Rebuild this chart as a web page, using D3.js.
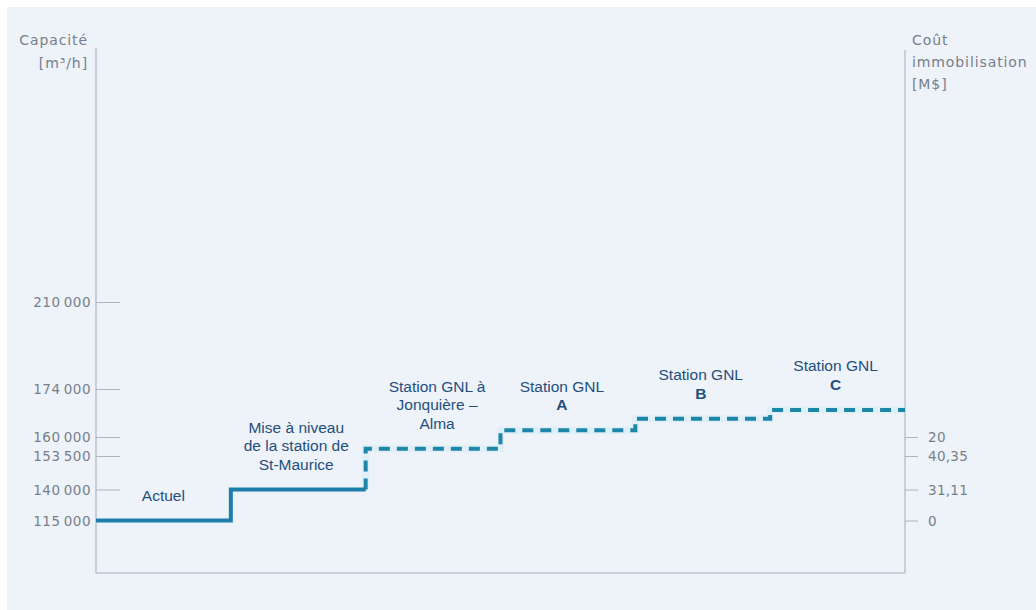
<!DOCTYPE html>
<html><head><meta charset="utf-8">
<script src="https://cdn.jsdelivr.net/npm/d3@7"></script>
<style>
html,body{margin:0;padding:0;background:#fff;}
svg{display:block;}
</style></head>
<body>
<svg id="c" width="1036" height="610"></svg>
<script>
// ---- data ----
const categories = ["Actuel", "Mise à niveau", "Jonquière – Alma", "Station GNL A", "Station GNL B", "Station GNL C"];
const capacity = [115000, 140000, 156000, 162000, 165300, 167900];
const stepLabels = [
  [["Actuel"]],
  [["Mise à niveau"], ["de la station de"], ["St-Maurice"]],
  [["Station GNL à"], ["Jonquière –"], ["Alma"]],
  [["Station GNL"], ["A", true]],
  [["Station GNL"], ["B", true]],
  [["Station GNL"], ["C", true]]
];
const leftTickValues = [115000, 140000, 153500, 160000, 174000, 210000];
const leftTickLabels = ["115\u2009000", "140\u2009000", "153\u2009500", "160\u2009000", "174\u2009000", "210\u2009000"];
const rightTickValues = [160000, 153500, 140000, 115000];
const rightTickLabels = ["20", "40,35", "31,11", "0"];

// ---- layout ----
const svg = d3.select("#c");
svg.append("rect").attr("x", 7).attr("y", 7).attr("width", 1029).attr("height", 603).attr("fill", "#eef2f9");

const x0 = 96, x1 = 905, yBottom = 573, yTop = 48;
const x = d3.scaleBand().domain(categories).range([x0, x1]).padding(0);
// the original axis is schematic (non-uniform spacing): piecewise-linear scale
const y = d3.scaleLinear().domain(leftTickValues).range([520.5, 489.5, 456, 437, 389, 302]);

const axisColor = "#a3abb4";
const tickColor = "#adb4bc";
const tickFont = "'DejaVu Sans', sans-serif";
const textGray = "#76808b";

// axes lines
svg.append("line").attr("x1", x0).attr("x2", x0).attr("y1", yTop).attr("y2", yBottom).attr("stroke", axisColor).attr("stroke-width", 1);
svg.append("line").attr("x1", x1).attr("x2", x1).attr("y1", 50).attr("y2", yBottom).attr("stroke", axisColor).attr("stroke-width", 1);
svg.append("line").attr("x1", x0).attr("x2", x1).attr("y1", yBottom).attr("y2", yBottom).attr("stroke", axisColor).attr("stroke-width", 1);

// left axis (ticks inward)
const leftAxis = d3.axisRight(y).tickValues(leftTickValues).tickSize(24)
  .tickFormat((d, i) => leftTickLabels[i]);
const gl = svg.append("g").attr("transform", `translate(${x0},0)`).call(leftAxis);
gl.select(".domain").remove();
gl.selectAll(".tick line").attr("stroke", tickColor);
gl.selectAll(".tick text").attr("x", -5).attr("text-anchor", "end")
  .attr("fill", textGray).style("font-family", tickFont).style("font-size", "13.5px")
  .style("letter-spacing", "0.5px").attr("dy", "0.35em");

// right axis
const rightAxis = d3.axisRight(y).tickValues(rightTickValues).tickSize(13)
  .tickFormat((d, i) => rightTickLabels[i]);
const gr = svg.append("g").attr("transform", `translate(${x1},0)`).call(rightAxis);
gr.select(".domain").remove();
gr.selectAll(".tick line").attr("stroke", tickColor);
gr.selectAll(".tick text").attr("x", 23).attr("text-anchor", "start")
  .attr("fill", textGray).style("font-family", tickFont).style("font-size", "13.5px")
  .style("letter-spacing", "0.3px").attr("dy", "0.35em");

// axis titles
const titleStyle = s => s.attr("fill", textGray).style("font-family", tickFont)
  .style("font-size", "14px").style("letter-spacing", "0.9px");
svg.append("text").attr("x", 88).attr("y", 45).attr("text-anchor", "end").text("Capacité").call(titleStyle);
svg.append("text").attr("x", 88).attr("y", 68).attr("text-anchor", "end").text("[m³/h]").call(titleStyle);
svg.append("text").attr("x", 912).attr("y", 45).text("Coût").call(titleStyle);
svg.append("text").attr("x", 912).attr("y", 67).text("immobilisation").call(titleStyle);
svg.append("text").attr("x", 912).attr("y", 89).text("[M$]").call(titleStyle);

// ---- step lines ----
const xs = i => x(categories[i]);
const xe = i => x(categories[i]) + x.bandwidth();

const solidPts = [[xs(0), y(capacity[0])], [xs(1), y(capacity[1])], [xe(1), y(capacity[1])]];
const dashedPts = [[xs(2), y(capacity[1])]];
for (let i = 2; i < categories.length; i++) dashedPts.push([xe(i), y(capacity[i])]);

const lineAfter = d3.line().curve(d3.curveStepAfter);
const lineBefore = d3.line().curve(d3.curveStepBefore);

svg.append("path").attr("d", lineBefore(dashedPts)).attr("fill", "none")
  .attr("stroke", "#c4ecf5").attr("stroke-width", 7).attr("stroke-opacity", 0.35);
svg.append("path").attr("d", lineBefore(dashedPts)).attr("fill", "none")
  .attr("stroke", "#1d87a8").attr("stroke-width", 4).attr("stroke-dasharray", "11 7");

svg.append("path").attr("d", lineAfter(solidPts)).attr("fill", "none")
  .attr("stroke", "#1d7eab").attr("stroke-width", 4);

// ---- step labels ----
const lh = 18.5;
const labelShift = [0, -2, 4, -6, -2, -2];
categories.forEach((c, i) => {
  const lines = stepLabels[i];
  const base = y(capacity[i]) - 20;
  const cx = x(c) + x.bandwidth() / 2 + labelShift[i];
  const t = svg.append("text").attr("text-anchor", "middle")
    .style("font-family", "'Liberation Sans', Arial, sans-serif").style("font-size", "15.5px").attr("fill", "#1e4f7d");
  lines.forEach((ln, k) => {
    t.append("tspan").attr("x", cx).attr("y", base - (lines.length - 1 - k) * lh)
      .attr("font-weight", ln[1] ? "bold" : null).text(ln[0]);
  });
});
</script>
</body></html>
